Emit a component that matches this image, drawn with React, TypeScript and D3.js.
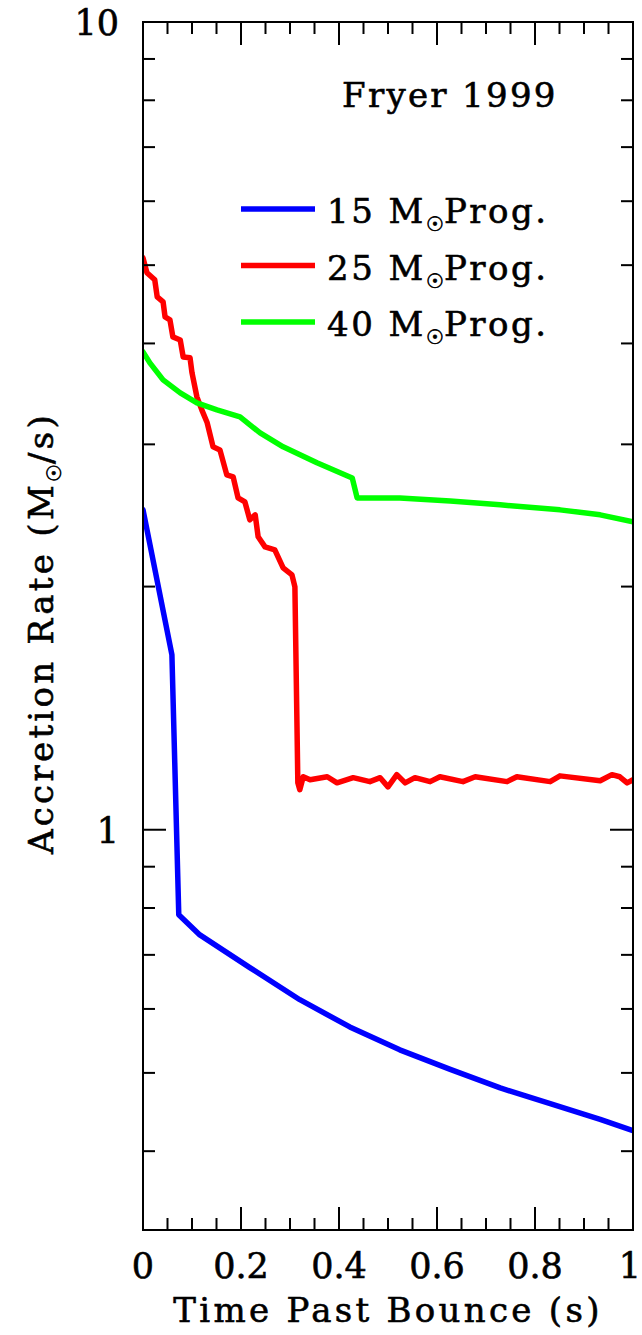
import * as d3 from 'd3'

const W = 642
const H = 1335
const M = { top: 22, right: 9, bottom: 105, left: 143 }

// Time past bounce (s) and accretion rate (Msun/s)
const t15 = [0, 0.059, 0.073, 0.116, 0.218, 0.32, 0.422, 0.524, 0.627, 0.729, 0.831, 0.933, 1]
const mdot15 = [2.49, 1.647, 0.785, 0.741, 0.675, 0.616, 0.57, 0.534, 0.505, 0.479, 0.458, 0.438, 0.424]

const t25 = [
  0, 0.008, 0.024, 0.029, 0.041, 0.045, 0.055, 0.061, 0.076, 0.082, 0.096, 0.1, 0.11, 0.12,
  0.131, 0.143, 0.157, 0.171, 0.184, 0.194, 0.208, 0.218, 0.229, 0.235, 0.249, 0.269, 0.286,
  0.304, 0.31, 0.316, 0.32, 0.327, 0.341, 0.376, 0.396, 0.429, 0.463, 0.484, 0.5, 0.518, 0.535,
  0.555, 0.586, 0.606, 0.653, 0.678, 0.743, 0.763, 0.831, 0.851, 0.933, 0.957, 0.973, 0.988, 1
]
const mdot25 = [
  5.105, 4.894, 4.795, 4.568, 4.503, 4.314, 4.278, 4.075, 4.04, 3.849, 3.839, 3.679, 3.435, 3.31,
  3.19, 2.979, 2.953, 2.75, 2.734, 2.575, 2.546, 2.419, 2.454, 2.305, 2.24, 2.221, 2.11,
  2.068, 1.998, 1.143, 1.121, 1.163, 1.153, 1.163, 1.143, 1.16, 1.147, 1.16, 1.13, 1.17, 1.143,
  1.16, 1.147, 1.163, 1.147, 1.163, 1.147, 1.163, 1.147, 1.166, 1.15, 1.17, 1.163, 1.143, 1.153
]

const t40 = [0, 0.014, 0.041, 0.076, 0.11, 0.151, 0.198, 0.239, 0.286, 0.355, 0.427, 0.437, 0.524, 0.627, 0.729, 0.851, 0.933, 1]
const mdot40 = [3.905, 3.784, 3.605, 3.474, 3.377, 3.31, 3.244, 3.099, 2.979, 2.846, 2.726, 2.575, 2.575, 2.553, 2.525, 2.489, 2.454, 2.405]

const seriesNames = ['15', '25', '40']
const seriesColors = ['#0000ff', '#ff0000', '#00ff00']

const xTicksMajor = [0, 0.2, 0.4, 0.6, 0.8, 1]
const xTickLabels = ['0', '0.2', '0.4', '0.6', '0.8', '1']
const yTicksMajor = [1, 10]
const yTickLabels = ['1', '10']

const FONT = '"DejaVu Serif", serif'
// SM-style text is a touch heavier than DejaVu Serif regular
const INK = { fill: '#000', stroke: '#000', strokeWidth: 0.6 }

export default function App() {
  const innerW = W - M.left - M.right
  const innerH = H - M.top - M.bottom

  const x = d3.scaleLinear().domain([0, 1]).range([0, innerW])
  const y = d3.scaleLog().domain([0.3195, 10]).range([innerH, 0])

  const xMinor = d3.range(0, 1.0001, 0.05).filter(v => !xTicksMajor.some(m => Math.abs(m - v) < 1e-6))
  const yMinor = [0.4, 0.5, 0.6, 0.7, 0.8, 0.9, 2, 3, 4, 5, 6, 7, 8, 9]

  const line = d3.line<[number, number]>().x(d => x(d[0])).y(d => y(d[1]))
  const series = [
    t15.map((t, i) => [t, mdot15[i]] as [number, number]),
    t25.map((t, i) => [t, mdot25[i]] as [number, number]),
    t40.map((t, i) => [t, mdot40[i]] as [number, number]),
  ]

  const MAJ = 23
  const MIN = 12

  return (
    <svg width={W} height={H} style={{ position: 'absolute', left: 0, top: 0, background: '#fff' }}
      fontFamily={FONT}>
      <defs>
        <clipPath id="plot-clip">
          <rect x={0} y={0} width={innerW} height={innerH} />
        </clipPath>
      </defs>
      <g transform={`translate(${M.left},${M.top})`}>
        {/* data */}
        <g clipPath="url(#plot-clip)">
          {series.map((s, i) => (
            <path key={i} d={line(s) || ''} fill="none" stroke={seriesColors[i]}
              strokeWidth={5.5} strokeLinejoin="round" strokeLinecap="round" />
          ))}
        </g>

        {/* frame */}
        <rect x={0} y={0} width={innerW} height={innerH} fill="none" stroke="#000" strokeWidth={2} />

        {/* x ticks, bottom and top */}
        {xTicksMajor.map(v => (
          <g key={`xM${v}`}>
            <line x1={x(v)} x2={x(v)} y1={innerH} y2={innerH - MAJ} stroke="#000" strokeWidth={2} />
            <line x1={x(v)} x2={x(v)} y1={0} y2={MAJ} stroke="#000" strokeWidth={2} />
          </g>
        ))}
        {xMinor.map(v => (
          <g key={`xm${v}`}>
            <line x1={x(v)} x2={x(v)} y1={innerH} y2={innerH - MIN} stroke="#000" strokeWidth={2} />
            <line x1={x(v)} x2={x(v)} y1={0} y2={MIN} stroke="#000" strokeWidth={2} />
          </g>
        ))}
        {xTicksMajor.map((v, i) => {
          const last = i === xTicksMajor.length - 1
          return (
            <text key={`xl${v}`} x={last ? W - M.left - 1 : x(v)} y={innerH + 48}
              textAnchor={last ? 'end' : 'middle'} fontSize={35} {...INK}>
              {xTickLabels[i]}
            </text>
          )
        })}

        {/* y ticks, left and right */}
        {yTicksMajor.map(v => (
          <g key={`yM${v}`}>
            <line x1={0} x2={MAJ} y1={y(v)} y2={y(v)} stroke="#000" strokeWidth={2} />
            <line x1={innerW} x2={innerW - MAJ} y1={y(v)} y2={y(v)} stroke="#000" strokeWidth={2} />
          </g>
        ))}
        {yMinor.map(v => (
          <g key={`ym${v}`}>
            <line x1={0} x2={MIN} y1={y(v)} y2={y(v)} stroke="#000" strokeWidth={2} />
            <line x1={innerW} x2={innerW - MIN} y1={y(v)} y2={y(v)} stroke="#000" strokeWidth={2} />
          </g>
        ))}
        {yTicksMajor.map((v, i) => (
          <text key={`yl${v}`} x={-24} y={y(v) + 13} textAnchor="end" fontSize={35} {...INK}>
            {yTickLabels[i]}
          </text>
        ))}

        {/* annotation */}
        <text x={342 - M.left} y={107 - M.top} fontSize={34} letterSpacing={2.3} {...INK}>Fryer 1999</text>

        {/* legend */}
        {seriesNames.map((name, i) => {
          const cy = 209 - M.top + i * 56.5
          return (
            <g key={name}>
              <line x1={241 - M.left} x2={315 - M.left} y1={cy} y2={cy}
                stroke={seriesColors[i]} strokeWidth={5.5} />
              <text x={327 - M.left} y={cy + 14} fontSize={34} letterSpacing={2.5} {...INK}>
                {name} M
                <tspan fontSize={20} dy={8} letterSpacing={0}>☉</tspan>
                <tspan dy={-8}>Prog.</tspan>
              </text>
            </g>
          )
        })}
      </g>

      {/* axis titles */}
      <text x={M.left + innerW / 2} y={1322} textAnchor="middle" fontSize={34} letterSpacing={3.3} {...INK}>
        Time Past Bounce (s)
      </text>
      <text transform={`translate(53,${633}) rotate(-90)`} textAnchor="middle" fontSize={34}
        letterSpacing={3.3} {...INK}>
        Accretion Rate (M
        <tspan fontSize={20} dy={8} letterSpacing={0}>☉</tspan>
        <tspan dy={-8}>/s)</tspan>
      </text>
    </svg>
  )
}
